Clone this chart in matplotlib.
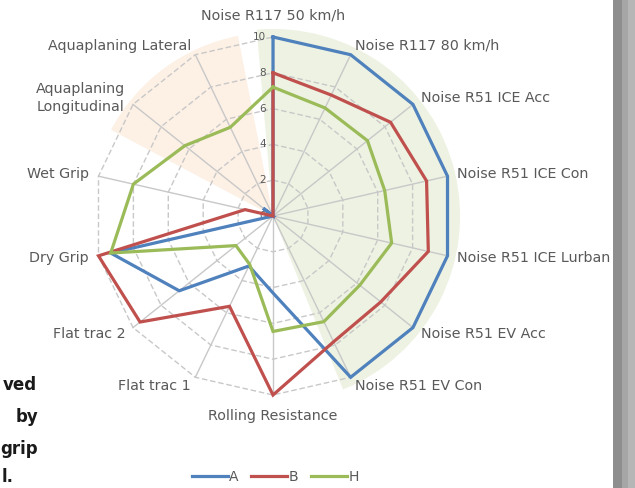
import numpy as np
import matplotlib.pyplot as plt
from matplotlib.lines import Line2D
from matplotlib.patches import Rectangle

# tyre performance radar: A vs B vs H
categories = ['Noise R117 50 km/h', 'Noise R117 80 km/h', 'Noise R51 ICE Acc',
              'Noise R51 ICE Con', 'Noise R51 ICE Lurban', 'Noise R51 EV Acc',
              'Noise R51 EV Con', 'Rolling Resistance', 'Flat trac 1', 'Flat trac 2',
              'Dry Grip', 'Wet Grip', 'Aquaplaning\nLongitudinal', 'Aquaplaning Lateral']
a_vals = [10, 10, 10, 10, 10, 10, 10, 4.3, 3.1, 6.7, 9.3, 0, 0.7, 0]
b_vals = [8, 7.5, 8.4, 8.8, 8.9, 7.7, 7.8, 10, 5.6, 9.5, 10, 1.6, 0, 0]
h_vals = [7.2, 6.7, 6.75, 6.4, 6.8, 6.2, 6.55, 6.45, 3.0, 2.65, 9.3, 8.0, 6.3, 5.5]
series_names = ['A', 'B', 'H']
ring_levels = [2, 4, 6, 8, 10]
tick_levels = [0, 2, 4, 6, 8, 10]

# shaded sectors behind the web (start deg, end deg, radius)
noise_sector = (-5, 158, 10.45)
aqua_sector = (298, 349, 10.25)

colors = ['#4f81bd', '#c0504d', '#9bbb59']
label_col = '#595959'
grid_col = '#c8c8c8'

W, H = 635, 488
fig = plt.figure(figsize=(W / 100, H / 100), dpi=100)
fig.patch.set_facecolor('white')

rmax = 10.6
cx, cy, R = 273, 216, 179 * rmax / 10
ax = fig.add_axes([(cx - R) / W, (H - cy - R) / H, 2 * R / W, 2 * R / H], projection='polar')
ax.set_theta_zero_location('N')
ax.set_theta_direction(-1)
ax.set_ylim(0, rmax)
ax.axis('off')

n = len(categories)
theta = np.arange(n) * 2 * np.pi / n

for (t0, t1, rad), fc in [(noise_sector, '#edf2e2'), (aqua_sector, '#fdf0e5')]:
    mid = np.deg2rad((t0 + t1) / 2)
    ax.bar(mid, rad, width=np.deg2rad(t1 - t0), bottom=0, color=fc,
           edgecolor='none', zorder=0)

# polygon rings and spokes
closed = np.append(theta, theta[0])
for lvl in ring_levels:
    ax.plot(closed, [lvl] * (n + 1), color=grid_col, lw=1,
            linestyle=(0, (4, 2)), zorder=1)
for t in theta:
    ax.plot([t, t], [0, 10], color=grid_col, lw=1, zorder=1)
ax.plot([0, 0], [0, 10], color='#b5b5b5', lw=1, zorder=1)

for lvl in tick_levels:
    ax.annotate(str(lvl), xy=(0, lvl), xytext=(-5, 0), textcoords='offset points',
                ha='right', va='center', fontsize=7.5, color=label_col)

handles = []
for vals, col, name in zip([a_vals, b_vals, h_vals], colors, series_names):
    ax.plot(closed, vals + vals[:1], color=col, lw=2.3, zorder=3,
            solid_joinstyle='miter')
    handles.append(Line2D([], [], color=col, lw=2.3, label=name))

for t, lab in zip(theta, categories):
    s = np.sin(t)
    if abs(s) < 1e-6:
        ax.text(t, 11.2, lab, ha='center', va='center', fontsize=10.3,
                color=label_col, clip_on=False)
    else:
        ax.text(t, 10.55, lab, ha='left' if s > 0 else 'right', va='center',
                fontsize=10.3, color=label_col, clip_on=False,
                multialignment='left', linespacing=1.4)

fig.legend(handles=handles, loc='center', bbox_to_anchor=(275 / W, 11 / H),
           ncol=3, frameon=False, handlelength=2.6, handletextpad=0.1,
           columnspacing=0.9, fontsize=10, labelcolor=label_col)

# text from the neighbouring box, running off the left edge
for txt, x, y in [('ved', 37, 385), ('by', 38, 417), ('grip', 38, 449)]:
    fig.text(x / W, 1 - y / H, txt, ha='right', va='center', fontsize=12,
             fontweight='bold', color='#1a1a1a')
fig.text(2 / W, 1 - 477 / H, 'l.', ha='left', va='center', fontsize=12,
         fontweight='bold', color='#1a1a1a')

# window edge on the right
for x0, x1, fc in [(613, 622, '#8e8e8e'), (622, 628, '#a6a6a6'), (628, 635, '#b6b6b6')]:
    fig.patches.append(Rectangle((x0 / W, 0), (x1 - x0) / W, 1, transform=fig.transFigure,
                                 facecolor=fc, edgecolor='none', zorder=10))

fig.savefig('out.png', dpi=100)
